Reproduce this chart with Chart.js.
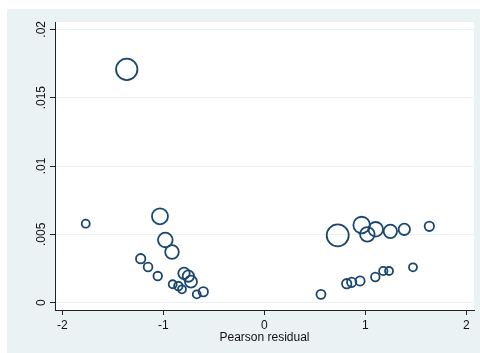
<!DOCTYPE html>
<html>
<head>
<meta charset="utf-8">
<script src="https://cdn.jsdelivr.net/npm/chart.js@4/dist/chart.umd.min.js"></script>
<style>
  html, body { margin: 0; padding: 0; background: #ffffff; }
  #wrap { position: relative; width: 480px; height: 353px; }
</style>
</head>
<body>
<div id="wrap"><canvas id="c" width="480" height="353"></canvas></div>
<script>
// Pearson residual vs. influence, marker area proportional to weight
const residual = [
  -1.362, -1.768, -1.033, -0.980, -0.914, -1.224, -1.151, -1.055,
  -0.795, -0.752, -0.726, -0.907, -0.851, -0.815, -0.669, -0.604,
  0.727, 0.964, 1.020, 1.103, 1.248, 1.386, 1.634,
  0.561, 0.816, 0.865, 0.948, 1.099, 1.178, 1.235, 1.472
];
const influence = [
  0.01707, 0.00578, 0.00632, 0.00459, 0.00371, 0.00322, 0.00261, 0.00195,
  0.00215, 0.00195, 0.00154, 0.00135, 0.00122, 0.00098, 0.00061, 0.00080,
  0.00493, 0.00568, 0.00500, 0.00537, 0.00522, 0.00537, 0.00559,
  0.00061, 0.00139, 0.00149, 0.00159, 0.00188, 0.00232, 0.00232, 0.00259
];
const weight = [
  28.6, 4.0, 16.0, 13.3, 11.6, 5.5, 4.8, 4.6,
  8.1, 8.1, 9.0, 4.0, 4.6, 4.0, 4.0, 5.5,
  30.3, 17.2, 13.3, 13.3, 11.2, 8.1, 5.5,
  5.1, 5.5, 5.5, 5.3, 4.6, 4.4, 4.0, 4.0
];
const xTickValues = [-2, -1, 0, 1, 2];
const xTickLabels = ['-2', '-1', '0', '1', '2'];
const yTickValues = [0, 0.005, 0.01, 0.015, 0.02];
const yTickLabels = ['0', '.005', '.01', '.015', '.02'];
const xTitle = 'Pearson residual';

const NAVY = '#1a476f';
const REGION = '#eaf2f3';
const FONT = "'Liberation Sans', Arial, sans-serif";

const points = residual.map((x, i) => ({ x: x, y: influence[i], r: 2 * Math.sqrt(weight[i]) }));

const backdrop = {
  id: 'backdrop',
  beforeDraw(chart) {
    const { ctx, chartArea: a } = chart;
    ctx.save();
    ctx.fillStyle = '#ffffff';
    ctx.fillRect(0, 0, chart.width, chart.height);
    ctx.fillStyle = REGION;
    ctx.fillRect(7, 9, chart.width - 7, chart.height - 9);
    ctx.fillStyle = '#ffffff';
    ctx.fillRect(a.left, a.top, a.right - a.left, a.bottom - a.top);
    ctx.restore();
  }
};

new Chart(document.getElementById('c'), {
  type: 'bubble',
  data: {
    datasets: [{
      data: points,
      backgroundColor: 'rgba(0,0,0,0)',
      borderColor: NAVY,
      borderWidth: 1.8,
      hoverRadius: 0,
      hoverBorderWidth: 1.8
    }]
  },
  options: {
    responsive: false,
    animation: false,
    events: [],
    layout: { autoPadding: false, padding: { top: 22, right: 6, left: 0, bottom: 0 } },
    plugins: { legend: { display: false }, tooltip: { enabled: false } },
    scales: {
      x: {
        type: 'linear',
        min: -2.0723,
        max: 2.0762,
        afterBuildTicks(s) { s.ticks = xTickValues.map(v => ({ value: v })); },
        afterFit(s) { s.height = 43; s.paddingLeft = 0; s.paddingRight = 0; },
        ticks: {
          callback(v) { const i = xTickValues.indexOf(v); return i >= 0 ? xTickLabels[i] : ''; },
          color: '#111111',
          font: { family: FONT, size: 12, lineHeight: 1 },
          padding: 5,
          maxRotation: 0,
          minRotation: 0
        },
        grid: { drawOnChartArea: false, drawTicks: true, tickLength: 5, tickColor: '#222222', tickWidth: 1 },
        border: { display: true, color: '#222222', width: 1 },
        title: {
          display: true,
          text: xTitle,
          color: '#111111',
          font: { family: FONT, size: 12, lineHeight: 1.2 },
          padding: { top: 0, bottom: 7.8 }
        }
      },
      y: {
        type: 'linear',
        min: -0.000534,
        max: 0.020534,
        afterBuildTicks(s) { s.ticks = yTickValues.map(v => ({ value: v })); },
        afterFit(s) { s.width = 55; s.paddingTop = 0; s.paddingBottom = 0; },
        ticks: {
          callback(v) {
            const i = yTickValues.findIndex(t => Math.abs(t - v) < 1e-9);
            return i >= 0 ? yTickLabels[i] : '';
          },
          color: '#111111',
          font: { family: FONT, size: 12, lineHeight: 1 },
          minRotation: 90,
          maxRotation: 90,
          crossAlign: 'center',
          padding: -3
        },
        grid: { color: REGION, lineWidth: 1, drawTicks: true, tickLength: 5, tickColor: '#222222', tickWidth: 1 },
        border: { display: true, color: '#222222', width: 1 }
      }
    }
  },
  plugins: [backdrop]
});
</script>
</body>
</html>
